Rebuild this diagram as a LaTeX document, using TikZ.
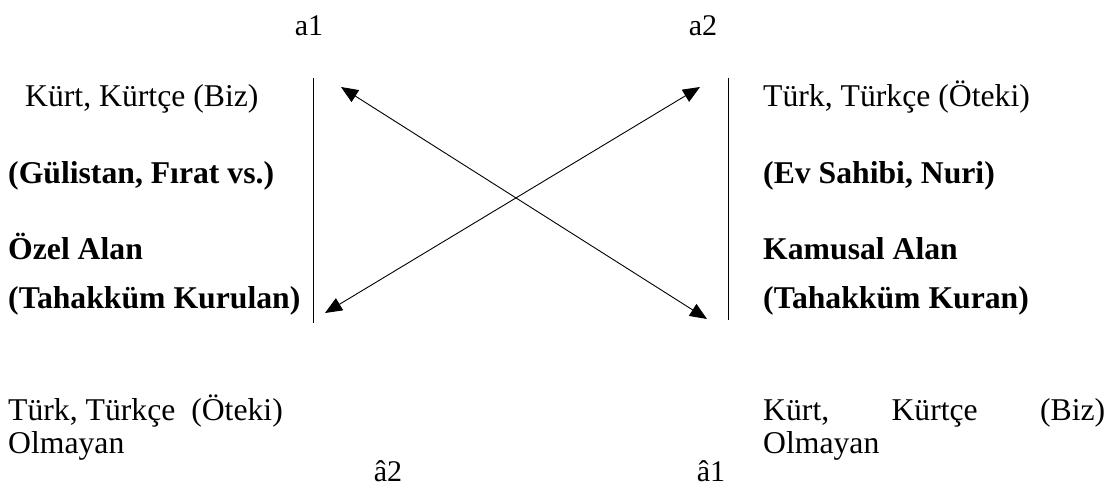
\documentclass[tikz,border=0pt]{standalone}
\usepackage{fontspec}
\setmainfont{Liberation Serif}
\usetikzlibrary{arrows.meta}
\begin{document}
\begin{tikzpicture}[x=1pt,y=-1pt,
  lbl/.style={inner sep=0pt,anchor=base west,font=\fontsize{31.7}{36}\selectfont},
  blbl/.style={lbl,font=\fontsize{31.7}{36}\selectfont\bfseries},
  clbl/.style={inner sep=0pt,anchor=base,font=\fontsize{30}{36}\selectfont},
  divider/.style={line width=0.9pt},
  link/.style={line width=0.9pt,{Triangle[length=17pt,width=14pt]}-{Triangle[length=17pt,width=14pt]}}]
\useasboundingbox (0,0) rectangle (1114,488);
% top labels
\node[clbl] (a1) at (309,35) {a1};
\node[clbl] (a2) at (703,35) {a2};
% left column
\node[lbl] (l1) at (25,106) {Kürt, Kürtçe (Biz)};
\node[blbl] (l2) at (8,183) {(Gülistan, Fırat vs.)};
\node[blbl] (l3) at (8,259) {Özel Alan};
\node[blbl] (l4) at (8,308) {(Tahakküm Kurulan)};
% right column
\node[lbl] (r1) at (763,106) {Türk, Türkçe (Öteki)};
\node[blbl] (r2) at (763,183) {(Ev Sahibi, Nuri)};
\node[blbl] (r3) at (763,259) {Kamusal Alan};
\node[blbl] (r4) at (763,308) {(Tahakküm Kuran)};
% dividers
\coordinate (dlt) at (313,78);
\coordinate (dlb) at (313,323);
\coordinate (drt) at (728,78);
\coordinate (drb) at (728,320);
\draw[divider] (dlt) -- (dlb);
\draw[divider] (drt) -- (drb);
% arrows
\coordinate (pA1) at (341,87);
\coordinate (pA2) at (707,319);
\coordinate (pB1) at (325,313);
\coordinate (pB2) at (700,87);
\draw[link] (pA1) -- (pA2);
\draw[link] (pB1) -- (pB2);
% bottom texts
\node[lbl] (b1) at (8,420) {Türk, Türkçe\ \ (Öteki)};
\node[lbl] (b2) at (8,453) {Olmayan};
\node[lbl] (b3) at (763,420) {\hbox to 342pt{Kürt,\hfill Kürtçe\hfill (Biz)}};
\node[lbl] (b4) at (763,453) {Olmayan};
% bottom labels
\node[clbl] (c2) at (388,481) {â2};
\node[clbl] (c1) at (711,481) {â1};
\end{tikzpicture}
\end{document}
